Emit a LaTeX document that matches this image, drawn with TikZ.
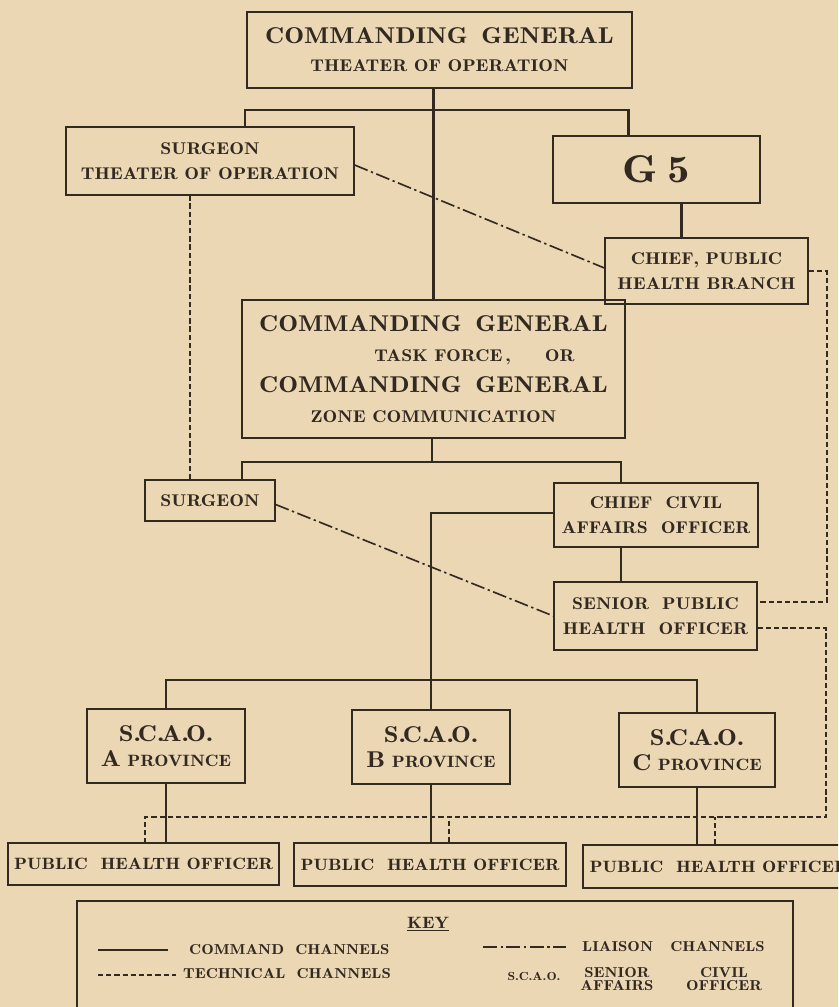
\documentclass[tikz,border=0pt]{standalone}
\usepackage{fontspec}
\setmainfont{lmromandemi10-regular.otf}[FakeStretch=1.16]
\usetikzlibrary{calc}
\definecolor{paper}{RGB}{235,215,180}
\definecolor{ink}{RGB}{50,41,33}
\newlength\px
\setlength\px{0.03cm}
\newcommand\fbig{\fontsize{19.5}{26}\selectfont}
\newcommand\fmed{\fontsize{14.5}{21}\selectfont}
\newcommand\fpho{\fontsize{14}{21}\selectfont}
\newcommand\fhuge{\fontsize{33}{40}\selectfont}
\newcommand\fscao{\fontsize{19.5}{23}\selectfont}
\newcommand\fprov{\fontsize{14}{23}\selectfont}
\newcommand\fkey{\fontsize{12.3}{14}\selectfont}
\newcommand\fkeysm{\fontsize{12.3}{11}\selectfont}
\newcommand\scao{S.\kern-2.5pt C.\kern-2.5pt A.\kern-2.5pt O.}
\newcommand\orgbox[6]{
  \node[orgnode,minimum width=#4\px,minimum height=#5\px] (#1) at (#2,#3) {#6};
}

\begin{document}
\begin{tikzpicture}[x=0.03cm,y=-0.03cm,color=ink,
    orgnode/.style={draw,line width=1.1pt,inner sep=0pt,align=center,font=\fmed},
    keytext/.style={anchor=west,inner sep=0pt,font=\fkey},
    cmd/.style={line width=2.1pt},
    tech/.style={line width=1.5pt,dash pattern=on 4.5pt off 2.5pt},
    liaison/.style={line width=1.4pt,dash pattern=on 12pt off 3pt on 2pt off 3pt}]
  \useasboundingbox (0,0) rectangle (838,1007);
  \fill[paper] (0,0) rectangle (838,1007);
  \clip (0,0) rectangle (838,1007);

  \orgbox{cgt}{439.5}{50}{385}{76}{{\fbig COMMANDING\hspace{0.6em}GENERAL}\\[3pt]THEATER OF OPERATION}
  \orgbox{sto}{210}{161}{288}{68}{SURGEON\\THEATER OF OPERATION}
  \orgbox{gfive}{656.5}{169.5}{207}{67}{\fhuge G\hspace{0.25em}5}
  \orgbox{cphb}{706.5}{271}{203}{66}{CHIEF, PUBLIC\\HEALTH BRANCH}
  \orgbox{cgtf}{433.5}{369}{383}{138}{{\fbig COMMANDING\hspace{0.6em}GENERAL}\\[5pt]
    \hspace*{70pt}TASK FORCE\,,\hspace{2em}OR\\[5pt]{\fbig COMMANDING\hspace{0.6em}GENERAL}\\[5pt]ZONE COMMUNICATION}
  \orgbox{surg}{210}{500.5}{130}{41}{SURGEON}
  \orgbox{ccao}{656}{515}{204}{64}{CHIEF\ \ CIVIL\\AFFAIRS\ \ OFFICER}
  \orgbox{spho}{655.5}{616}{203}{68}{SENIOR\ \ PUBLIC\\HEALTH\ \ OFFICER}
  \orgbox{scaoa}{166}{746}{158}{74}{{\fscao\scao}\\{\fscao A} {\fprov PROVINCE}}
  \orgbox{scaob}{431}{747}{158}{74}{{\fscao\scao}\\{\fscao B} {\fprov PROVINCE}}
  \orgbox{scaoc}{697}{750}{156}{74}{{\fscao\scao}\\{\fscao C} {\fprov PROVINCE}}
  \orgbox{phoa}{143.5}{864}{271}{42}{\fpho PUBLIC\ \ HEALTH OFFICER}
  \orgbox{phob}{430}{864.5}{272}{43}{\fpho PUBLIC\ \ HEALTH OFFICER}
  \orgbox{phoc}{719}{866.5}{272}{43}{\fpho PUBLIC\ \ HEALTH OFFICER}

  % command channels
  \coordinate (topbar) at (434,110);
  \coordinate (midbar) at (432,462);
  \coordinate (lowbar) at (432,680);
  \draw[cmd] (cgtf.north |- cgt.south) -- (cgtf.north);
  \draw[cmd] ($(sto.north)+(35,0)$) |- (topbar) -| ($(gfive.north)+(-28,0)$);
  \draw[cmd] ($(cphb.north)+(-25,0)$) coordinate (gdrop) -- (gdrop |- gfive.south);
  \draw[cmd] (cgtf.south -| midbar) -- (midbar);
  \draw[cmd] ($(surg.north)+(32,0)$) |- (midbar) -| ($(ccao.north)+(-35,0)$);
  \draw[cmd] ($(ccao.south)+(-35,0)$) coordinate (cdrop) -- (cdrop |- spho.north);
  \draw[cmd] ($(ccao.west)+(0,-2)$) -| (scaob.north);
  \draw[cmd] (scaoa.north) |- (lowbar) -| (scaoc.north);
  \foreach \s in {a,b,c}
    \draw[cmd] (scao\s.south) -- (scao\s.south |- pho\s.north);

  % technical channels
  \coordinate (techbar) at (826,817);
  \draw[tech] ($(surg.north)+(-20,0)$) coordinate (sdrop) -- (sdrop |- sto.south);
  \draw[tech] (cphb.east) -| ($(spho.east)+(69,-14)$) -- ($(spho.east)+(0,-14)$);
  \draw[tech] ($(spho.east)+(0,12)$) -| (techbar) -| ($(phoa.north)+(1.5,0)$);
  \draw[tech] ($(phob.north)+(19,0)$) coordinate (tb) -- (tb |- techbar);
  \draw[tech] ($(phoc.north)+(-4,0)$) coordinate (tc) -- (tc |- techbar);

  % liaison channels
  \draw[liaison] ($(sto.east)+(0,4)$) -- ($(cphb.west)+(0,-3)$);
  \draw[liaison] ($(surg.east)+(0,4)$) -- (spho.west);

  % key
  \draw[line width=1.1pt] (77,901) rectangle (793,1015);
  \node[inner sep=0pt,font=\fontsize{14}{16}\selectfont] (keyhead) at (428,924) {\underline{KEY}};
  \draw[cmd] (98,950) -- (168,950);
  \node[keytext] (kcmd) at (189,950) {COMMAND\ \ CHANNELS};
  \draw[tech] (98,975) -- (176,975);
  \node[keytext] (ktech) at (183,974) {TECHNICAL\ \ CHANNELS};
  \draw[liaison] (483,947) -- (566,947);
  \node[keytext] (kliai) at (582,947) {LIAISON\hspace{1.2em}CHANNELS};
  \node[inner sep=0pt,font=\fontsize{10}{11}\selectfont] (kscao) at (534,976) {S.C.A.O.};
  \node[inner sep=0pt,align=center,font=\fkeysm] (ksa) at (617,979) {SENIOR\\AFFAIRS};
  \node[inner sep=0pt,align=center,font=\fkeysm] (kco) at (724,979) {CIVIL\\OFFICER};
\end{tikzpicture}
\end{document}
